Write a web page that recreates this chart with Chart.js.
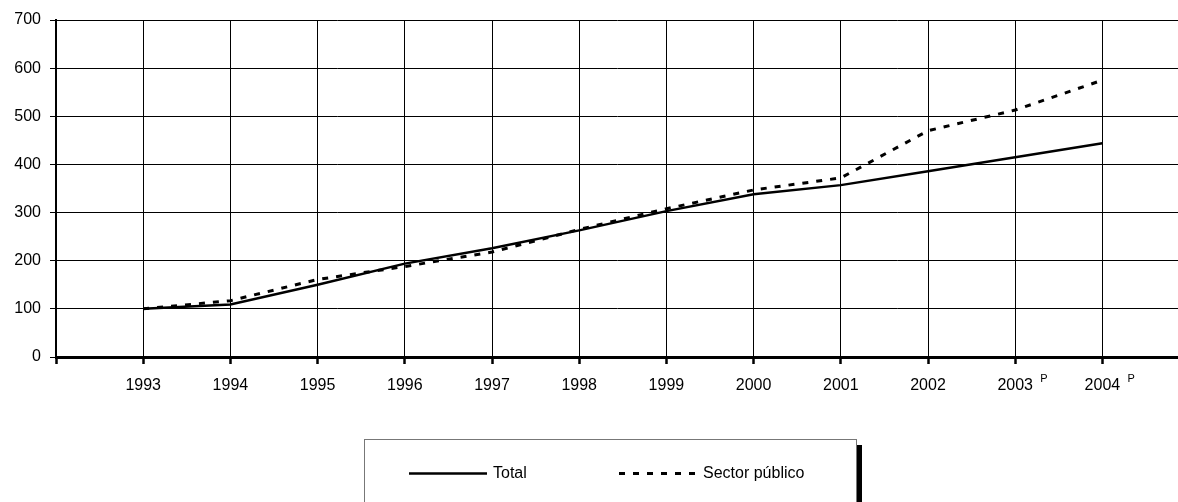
<!DOCTYPE html>
<html>
<head>
<meta charset="utf-8">
<script src="https://cdn.jsdelivr.net/npm/chart.js@4/dist/chart.umd.min.js"></script>
<style>
  html, body { margin: 0; padding: 0; background: #fff; overflow: hidden; }
  #wrap { width: 1178px; height: 502px; }
</style>
</head>
<body>
<div id="wrap"><canvas id="graph" width="1178" height="502"></canvas></div>
<script>
const years = [1993, 1994, 1995, 1996, 1997, 1998, 1999, 2000, 2001, 2002, 2003, 2004];
const provisional = [2003, 2004];
const total = [100, 109, 150, 194, 226, 263, 303, 338, 357, 386, 415, 444];
const sectorPublico = [100, 117, 161, 188, 218, 265, 308, 347, 372, 470, 513, 575];
const seriesNames = ["Total", "Sector público"];

const FONT = "'Liberation Sans', Arial, sans-serif";

// legend drawn as a boxed panel under the plot, with a black shadow on the right
const boxLegend = {
  id: "boxLegend",
  afterDraw(chart) {
    const ctx = chart.ctx;
    ctx.save();
    ctx.fillStyle = "#000";
    ctx.fillRect(857, 445, 5, 80);
    ctx.strokeStyle = "#777";
    ctx.lineWidth = 1;
    ctx.strokeRect(364.5, 439.5, 492, 90);
    const items = [
      { x0: 409, x1: 487, tx: 493 },
      { x0: 619, x1: 698, tx: 703 },
    ];
    chart.data.datasets.forEach((ds, i) => {
      const it = items[i];
      ctx.beginPath();
      ctx.strokeStyle = ds.borderColor;
      ctx.lineWidth = ds.borderWidth;
      ctx.setLineDash(ds.borderDash || []);
      ctx.moveTo(it.x0, 473.5);
      ctx.lineTo(it.x1, 473.5);
      ctx.stroke();
      ctx.setLineDash([]);
      ctx.fillStyle = "#000";
      ctx.font = "16px " + FONT;
      ctx.textBaseline = "middle";
      ctx.textAlign = "left";
      ctx.fillText(ds.label, it.tx, 474);
    });
    // superscript P on provisional years
    const xs = chart.scales.x;
    ctx.font = "11px " + FONT;
    ctx.textBaseline = "top";
    provisional.forEach((y) => {
      ctx.fillText("P", xs.getPixelForValue(y) + 25, 373);
    });
    ctx.restore();
  },
};

const graph = new Chart(document.getElementById("graph"), {
  type: "line",
  data: {
    datasets: [
      {
        label: seriesNames[0],
        data: total.map((v, i) => ({ x: years[i], y: v })),
        borderColor: "#000",
        borderWidth: 2.5,
        pointRadius: 0,
        tension: 0,
        fill: false,
      },
      {
        label: seriesNames[1],
        data: sectorPublico.map((v, i) => ({ x: years[i], y: v })),
        borderColor: "#000",
        borderWidth: 3,
        borderDash: [6, 8],
        borderCapStyle: "butt",
        pointRadius: 0,
        tension: 0,
        fill: false,
      },
    ],
  },
  options: {
    responsive: false,
    animation: false,
    devicePixelRatio: 1,
    layout: { padding: { top: 20, left: 0, right: 0, bottom: 0 } },
    plugins: {
      legend: { display: false },
      title: { display: false },
      tooltip: { enabled: false },
    },
    scales: {
      x: {
        type: "linear",
        min: 1992,
        max: 1992 + (1178 - 56) / 87.2,
        afterFit(scale) {
          scale.height = 145;
        },
        grid: {
          color: "#000",
          lineWidth: 1,
          tickColor: "#000",
          tickWidth: 2.5,
          tickLength: 7,
        },
        border: { color: "#000", width: 3 },
        ticks: {
          stepSize: 1,
          includeBounds: false,
          autoSkip: false,
          maxRotation: 0,
          padding: 12,
          color: "#000",
          font: { family: FONT, size: 16 },
          callback: (v) => (years.includes(v) ? String(v) : ""),
        },
      },
      y: {
        min: 0,
        max: 700,
        afterFit(scale) {
          scale.width = 56;
        },
        grid: {
          color: "#000",
          lineWidth: 1,
          tickLength: 6,
        },
        border: { color: "#000", width: 2 },
        ticks: {
          stepSize: 100,
          padding: 9,
          color: "#000",
          font: { family: FONT, size: 16 },
        },
      },
    },
  },
  plugins: [boxLegend],
});
</script>
</body>
</html>
